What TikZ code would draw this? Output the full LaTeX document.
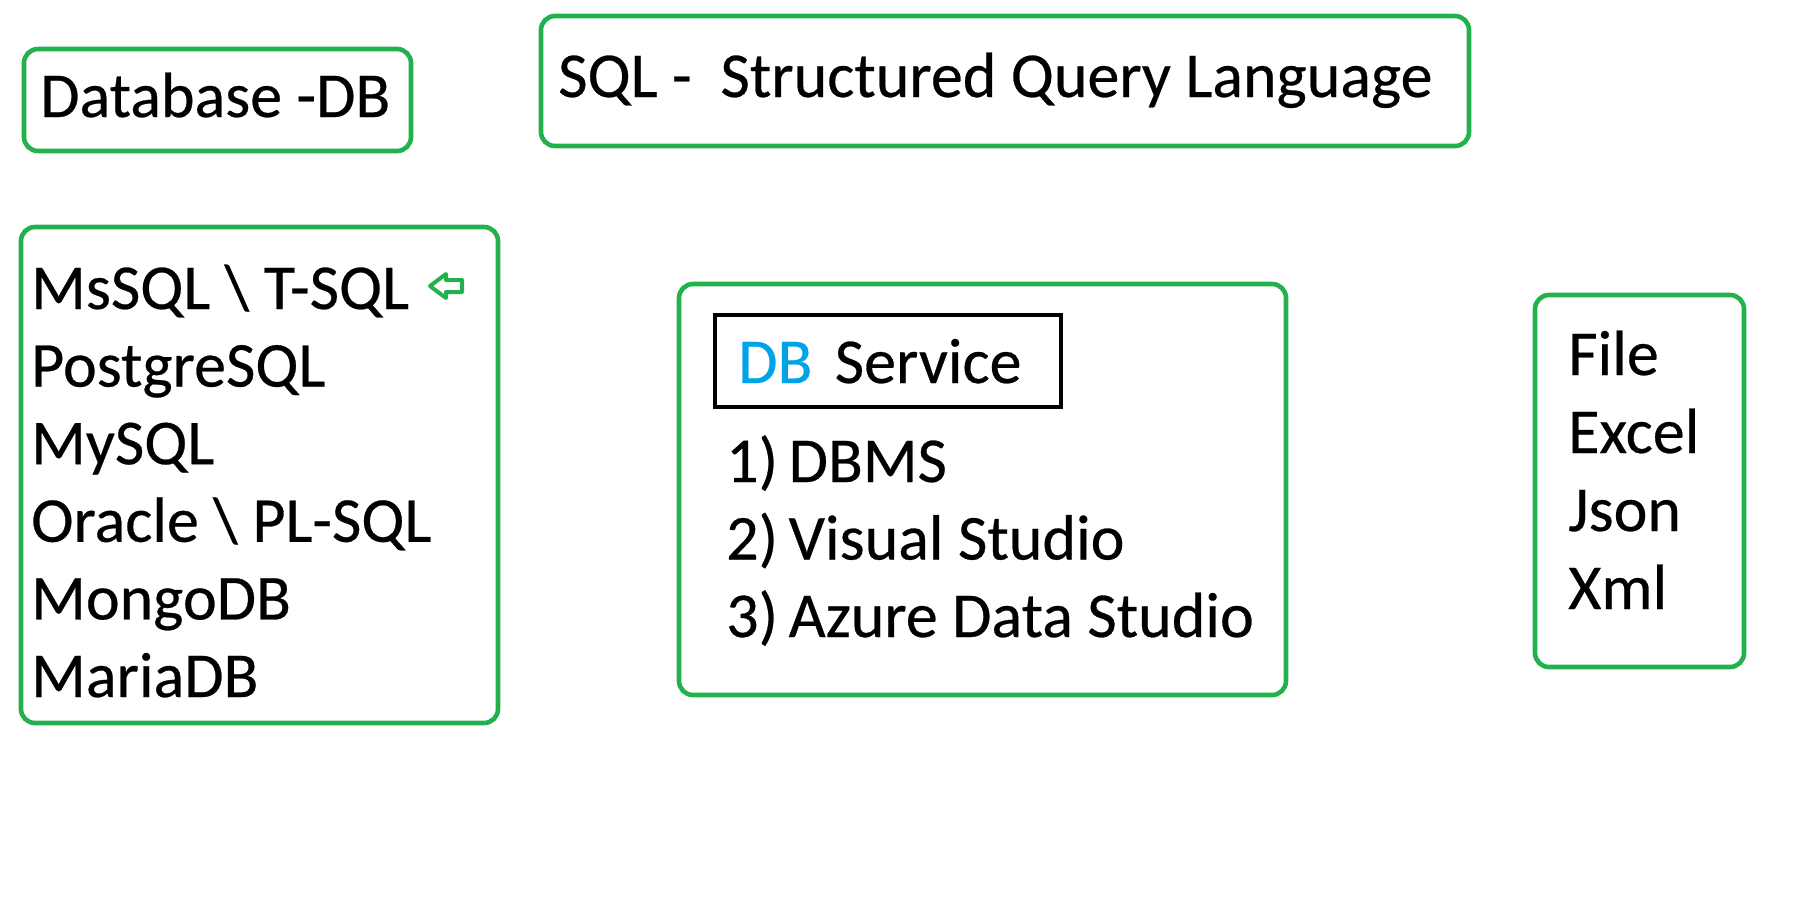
\documentclass[tikz,border=0pt]{standalone}
\usepackage{fontspec}
\setmainfont{Carlito}[FakeBold=0.4]
\definecolor{boxgreen}{RGB}{34,177,76}
\definecolor{dbblue}{RGB}{0,162,232}

\begin{document}
\begin{tikzpicture}[x=1pt,y=-1pt,
    greenbox/.style={draw=boxgreen,line width=4.6pt,rounded corners=14pt},
    item/.style={anchor=base west,inner sep=0pt,font=\fontsize{64}{78}\selectfont}]
    \useasboundingbox (0,0) rectangle (1814,913);
    \draw[greenbox] (24,49) rectangle (411,151);
    \node[item] (db) at (40,117) {Database -DB};
    \draw[greenbox] (541,16) rectangle (1469,146);
    \node[item] (sql) at (558,97) {SQL -\ \ Structured Query Language};
    \draw[greenbox] (21,227) rectangle (498,723);
    \foreach \name [count=\i from 0] in {MsSQL \textbackslash{} T-SQL,PostgreSQL,MySQL,Oracle \textbackslash{} PL-SQL,MongoDB,MariaDB}
        \node[item] (engine\i) at (31,309+77.6*\i) {\name};
    \draw[boxgreen,line width=4pt,line join=round] (430,286) -- (446,274) -- (446,280) -- (462,280) -- (462,292) -- (446,292) -- (446,298) -- cycle;
    \draw[greenbox] (679,284) rectangle (1286,695);
    \draw[line width=4.8pt] (715,315) rectangle (1061,407);
    \node[item] (service) at (738,383) {\textcolor{dbblue}{DB}\hspace{0.35em}Service};
    \foreach \tool [count=\i from 0] in {1)\,DBMS,2)\,Visual Studio,3)\,Azure Data Studio}
        \node[item] (tool\i) at (726,482+77.5*\i) {\tool};
    \draw[greenbox] (1535,295) rectangle (1744,667);
    \foreach \fmt [count=\i from 0] in {File,Excel,Json,Xml}
        \node[item] (fmt\i) at (1568,375+78*\i) {\fmt};
\end{tikzpicture}
\end{document}
